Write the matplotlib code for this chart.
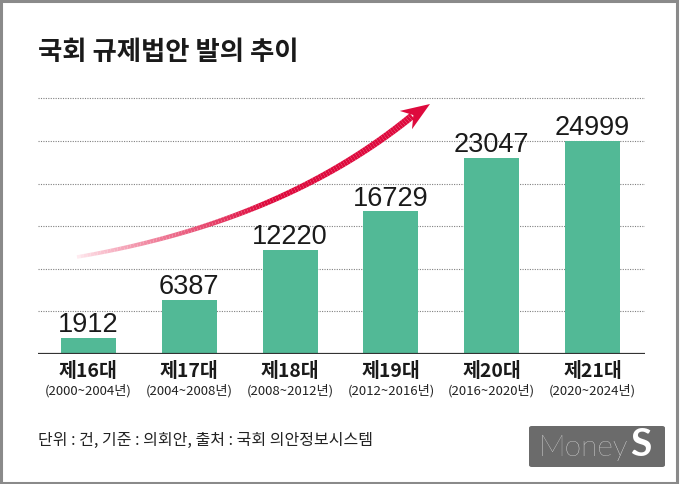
import matplotlib
matplotlib.use("Agg")
import matplotlib.pyplot as plt
import numpy as np
from matplotlib import font_manager
from matplotlib.collections import LineCollection
from matplotlib.patches import Polygon, FancyBboxPatch, Rectangle

# data
sessions = ['제16대', '제17대', '제18대', '제19대', '제20대', '제21대']
periods = ['(2000~2004년)', '(2004~2008년)', '(2008~2012년)',
           '(2012~2016년)', '(2016~2020년)', '(2020~2024년)']
bills = [1912, 6387, 12220, 16729, 23047, 24999]

title = '국회 규제법안 발의 추이'
note = '단위 : 건, 기준 : 의회안, 출처 : 국회 의안정보시스템'

kr = ['Noto Sans CJK KR', 'DejaVu Sans']
names = {f.name for f in font_manager.fontManager.ttflist}
num_font = 'Liberation Sans Narrow' if 'Liberation Sans Narrow' in names else 'Liberation Sans'

W, H = 680, 484
fig = plt.figure(figsize=(W / 100, H / 100), dpi=100)
fig.patch.set_facecolor('white')

def fx(px):
    return px / W

def fy(py):
    return 1 - py / H

# axes from x 38..645, y 90..354 (pixels)
ax = fig.add_axes([fx(38), fy(354), fx(645) - fx(38), (354 - 90) / H])
ax.set_xlim(-0.5, 5.52)
ax.set_ylim(0, 30986)
x = np.arange(len(bills))
ax.bar(x, bills, width=0.545, color='#52b996', zorder=3)

for v in range(5000, 30001, 5000):
    ax.axhline(v, color='#808080', lw=0.8, dashes=(1.0, 1.2), zorder=1)
ax.axhline(0, color='#333333', lw=1.6, zorder=4)

for xi, v in zip(x, bills):
    ax.annotate(str(v), (xi, v), xytext=(0, 4), textcoords='offset points',
                ha='center', va='baseline', fontsize=19.5, family=num_font,
                color='#1a1a1a')

ax.axis('off')

for xi, s, p in zip(x, sessions, periods):
    ax.text(xi, -0.03, s, transform=ax.get_xaxis_transform(), ha='center',
            va='top', fontsize=14, family=kr, weight='bold', color='#1a1a1a')
    ax.text(xi, -0.115, p, transform=ax.get_xaxis_transform(), ha='center',
            va='top', fontsize=9.5, family=kr, color='#222222')

fig.text(fx(38), fy(52), title, ha='left', va='center', fontsize=19,
         family=kr, weight='black', color='#1a1a1a')
fig.text(fx(38), fy(440), note, ha='left', va='center', fontsize=11.5,
         family=kr, color='#222222')

# curved gradient arrow
p0 = np.array([77, 257.0])
p1 = np.array([282, 222.0])
p2 = np.array([412, 116.0])
t = np.linspace(0, 1, 120)
pts = ((1 - t)[:, None] ** 2) * p0 + (2 * (1 - t) * t)[:, None] * p1 + (t[:, None] ** 2) * p2
pts_f = np.column_stack([fx(pts[:, 0]), fy(pts[:, 1])])
segs = np.stack([pts_f[:-1], pts_f[1:]], axis=1)
c0 = np.array([1.0, 0.92, 0.94])
c1 = np.array([0.87, 0.04, 0.24])
k = np.clip(t[:-1] * 2.0, 0, 1)[:, None] ** 0.8
cols = c0 * (1 - k) + c1 * k
lws = 2.6 + 2.6 * t[:-1]
lc = LineCollection(segs, colors=cols, linewidths=lws, transform=fig.transFigure,
                    capstyle='butt')
fig.add_artist(lc)

tip = np.array([430, 104.0])
d = tip - p2
d = d / np.hypot(*d)
n = np.array([-d[1], d[0]])
base = tip - 26 * d
head = [tip, base - 11 * n - 3 * d, tip - 20 * d, base + 11 * n - 3 * d]
head = [(fx(p[0]), fy(p[1])) for p in head]
fig.add_artist(Polygon(head, closed=True, color=c1, transform=fig.transFigure, lw=0))

# logo
fig.add_artist(FancyBboxPatch((fx(529), fy(467)), fx(665) - fx(529), fy(426) - fy(467),
                              boxstyle='round,pad=0,rounding_size=0.004',
                              transform=fig.transFigure, color='#6b6b6b', lw=0))
fig.text(fx(538), fy(456), 'Money', ha='left', va='baseline', fontsize=21.5,
         family='Lato', weight='light', color='white')
fig.text(fx(630), fy(456), 'S', ha='left', va='baseline', fontsize=28,
         family='Lato', weight='bold', color='white')

# frame
fig.add_artist(Rectangle((0.002, 0.003), 0.994, 0.994, transform=fig.transFigure,
                         fill=False, edgecolor='#8a8a8a', lw=2.2))

fig.savefig('out.png', dpi=100, facecolor='white')
